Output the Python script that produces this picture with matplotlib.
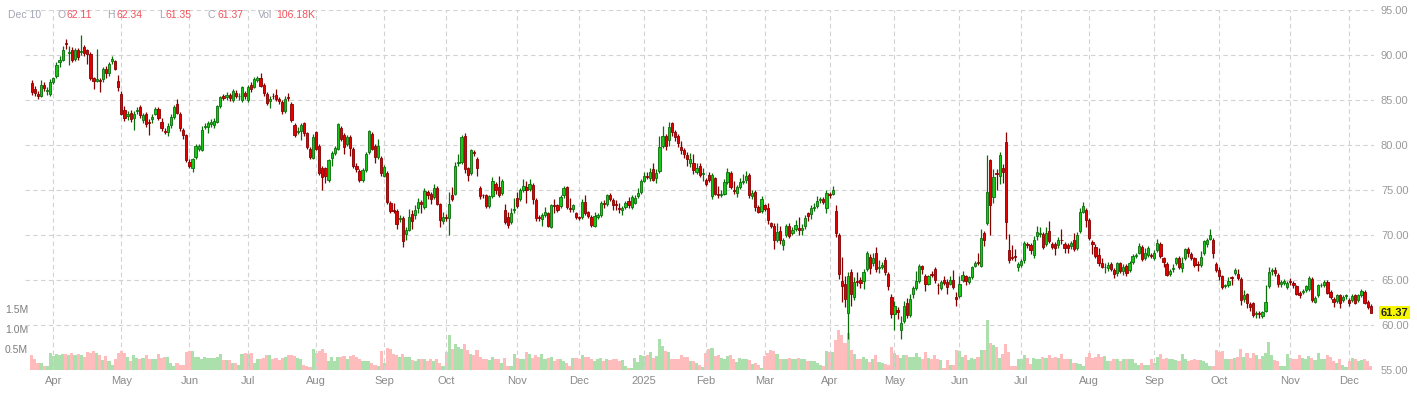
import numpy as np
import pandas as pd
import matplotlib
matplotlib.use('Agg')
import matplotlib.pyplot as plt
import matplotlib.transforms as mtransforms

plt.rcParams['font.family'] = ['Liberation Sans', 'DejaVu Sans']

# daily OHLC, 2024-03-20 .. 2025-12-10
opens = [
    86.9, 86.2, 85.7, 85.5, 86.7, 86.0, 85.7, 87.0, 87.7, 89.2, 89.5, 91.3, 90.2, 90.6, 89.6, 90.6, 90.3, 90.9, 90.5, 90.1, 87.4, 87.1, 87.2, 87.3, 88.5, 88.0, 89.3, 89.3, 87.1, 85.7, 83.9, 83.2, 83.6, 83.0,
    83.8, 84.2, 82.8, 83.4, 82.6, 82.9, 83.5, 84.0, 82.6, 81.6, 81.5, 82.2, 83.1, 84.5, 83.5, 81.7, 81.1, 78.1, 77.4, 78.7, 79.6, 79.4, 82.0, 82.0, 82.3, 82.2, 82.6, 84.3, 85.4, 85.3, 85.6, 85.0, 85.8, 85.4, 85.0, 85.8, 85.0,
    86.7, 86.5, 87.2, 87.4, 86.7, 85.7, 84.9, 85.5, 85.6, 85.1, 84.8, 83.8, 85.3, 84.6, 82.2, 81.5, 81.6, 82.4, 81.3, 79.6, 78.6, 81.4, 79.9, 77.5, 77.4, 76.1, 78.6, 79.1, 79.6, 81.9, 81.1, 80.1, 80.9, 79.6, 77.7, 77.1, 76.1, 77.2, 79.2,
    81.2, 79.9, 78.7, 78.6, 76.6, 76.9, 73.6, 72.8, 72.7, 71.8, 71.9, 70.1, 70.6, 72.3, 72.2, 73.0, 73.7, 73.1, 74.8, 74.6, 74.2, 75.2, 73.4, 71.6, 72.0, 71.9, 74.4, 74.6, 78.0, 78.1, 81.0, 77.4, 76.9, 79.2, 78.5, 75.2, 74.45,
    74.4, 73.2, 74.3, 75.7, 75.3, 74.7, 72.8, 72.0, 71.5, 72.8, 74.1, 74.0, 75.0, 75.3, 75.1, 75.6, 73.9, 72.0, 71.8, 72.2, 72.4, 70.9, 73.3, 73.3, 73.2, 74.4, 75.3, 73.0, 72.9, 72.4, 72.0, 72.0, 73.7, 72.5, 72.0, 71.0,
    72.0, 72.2, 73.6, 73.4, 74.5, 73.9, 73.4, 73.0, 72.8, 73.1, 73.8, 73.1, 73.6, 74.3, 74.8, 76.0, 76.6, 76.3, 77.3, 76.3, 77.1, 79.9, 81.0, 80.6, 82.4, 81.4, 81.0, 79.8, 79.4, 78.9, 78.0, 78.0, 77.0, 77.7, 76.8, 76.1, 76.7, 74.3,
    76.3, 74.6, 74.4, 74.6, 75.9, 76.9, 75.0, 74.7, 75.3, 75.9, 76.1, 76.7, 74.3, 74.8, 73.1, 72.7, 73.3, 73.0, 71.3, 71.0, 69.4, 70.5, 68.9, 70.0, 71.0, 70.2, 70.7, 70.8, 70.6, 71.0, 72.4, 72.3, 73.0, 73.2, 73.9, 74.0, 73.0,
    74.6, 74.6, 72.7, 70.0, 64.9, 64.6, 61.3, 65.9, 63.1, 64.9, 65.0, 64.9, 66.2, 67.6, 66.9, 68.0, 66.3, 66.5, 67.2, 65.7, 63.1, 61.2, 61.7, 59.5, 60.4, 62.4, 61.1, 63.4, 64.1, 64.9, 66.5, 65.5, 64.6, 65.7, 66.2, 64.5,
    64.1, 65.0, 64.8, 64.6, 65.0, 63.1, 63.2, 65.0, 65.4, 64.8, 65.3, 66.6, 67.0, 66.6, 70.2, 71.3, 78.3, 74.2, 76.9, 76.6, 77.4, 80.3, 68.3, 67.6, 67.7, 66.5, 66.7, 67.2, 69.0, 68.9, 67.8, 69.9, 70.1, 70.1, 69.0, 70.5, 69.0, 69.0, 68.9,
    69.5, 69.0, 68.9, 68.8, 69.4, 68.6, 70.4, 72.6, 72.8, 71.7, 69.2, 68.7, 67.8, 66.9, 66.4, 66.3, 66.8, 66.1, 65.8, 66.9, 66.0, 66.6, 66.1, 67.0, 67.7, 68.0, 68.7, 67.5, 67.8, 67.8, 67.5, 68.3, 69.0, 67.4, 66.8,
    65.7, 66.2, 66.9, 67.5, 66.3, 67.5, 68.5, 67.9, 67.4, 66.8, 66.7, 68.0, 69.0, 69.6, 69.5, 66.8, 66.1, 65.4, 64.3, 64.4, 65.3, 65.8, 65.7, 65.1, 62.9, 63.4, 62.3, 62.4, 61.2, 61.3, 61.0, 61.6, 64.3, 66.0, 66.1, 65.6, 64.6, 64.7, 64.2,
    64.9, 64.7, 64.3, 63.6, 63.7, 63.9, 64.0, 65.1, 62.6, 63.3, 64.4, 64.4, 64.8, 63.7, 62.9, 62.7, 63.3, 62.8, 63.2, 62.8, 62.8, 63.3, 62.8, 63.3, 63.7, 62.6, 62.11,
]
highs = [
    87.2, 86.6, 86.0, 87.2, 87.0, 86.5, 87.3, 87.6, 89.2, 89.9, 91.0, 91.8, 91.0, 90.9, 90.8, 90.8, 92.2, 91.1, 90.7, 90.3, 87.6, 90.7, 87.4, 88.7, 88.8, 89.2, 89.9, 89.5, 87.8, 86.0, 84.3, 83.8, 83.9, 83.8,
    84.2, 84.5, 83.6, 83.7, 82.9, 83.4, 84.2, 84.2, 83.0, 81.9, 82.4, 83.4, 84.4, 85.1, 83.7, 81.9, 81.2, 78.4, 78.6, 80.1, 80.1, 82.1, 82.5, 82.7, 82.9, 83.0, 84.5, 85.5, 85.7, 85.9, 85.8, 86.2, 86.1, 85.8, 86.6, 86.0, 86.7,
    87.0, 87.6, 87.7, 88.0, 86.9, 85.9, 85.4, 85.8, 86.2, 85.3, 85.0, 85.4, 85.8, 84.8, 82.4, 82.0, 82.5, 82.6, 81.5, 79.8, 81.2, 81.6, 80.1, 77.7, 77.6, 78.5, 79.3, 79.9, 82.5, 82.1, 81.3, 81.1, 81.1, 79.8, 78.0, 77.3, 77.4, 79.2, 81.7,
    81.4, 80.1, 80.7, 78.8, 77.8, 77.1, 73.8, 73.6, 72.9, 72.2, 72.1, 70.9, 72.9, 72.8, 73.3, 74.1, 73.9, 75.2, 75.0, 74.8, 75.7, 75.4, 73.6, 72.6, 72.3, 74.8, 75.3, 78.1, 79.0, 81.1, 81.3, 77.6, 79.6, 79.4, 78.7, 75.4, 74.6,
    74.6, 74.5, 76.4, 75.9, 76.6, 76.2, 73.4, 72.6, 73.0, 74.1, 74.8, 75.2, 76.2, 76.0, 76.2, 75.8, 74.1, 72.2, 72.5, 73.1, 72.6, 73.5, 74.0, 73.5, 74.4, 75.4, 75.4, 74.1, 73.5, 72.6, 72.1, 74.0, 74.5, 72.7, 72.2, 72.6,
    72.5, 73.8, 73.9, 74.6, 74.7, 74.1, 73.9, 73.6, 73.2, 73.8, 74.2, 74.4, 74.5, 75.2, 76.2, 77.0, 77.0, 77.4, 78.0, 77.3, 81.0, 82.1, 81.2, 82.6, 82.6, 81.7, 81.2, 80.4, 79.7, 79.2, 79.1, 79.0, 78.0, 78.0, 77.5, 76.3, 77.0, 76.9,
    76.5, 75.4, 75.0, 76.2, 77.4, 77.1, 76.0, 75.6, 76.3, 76.8, 77.1, 76.9, 75.0, 75.0, 73.3, 74.3, 73.5, 73.6, 71.5, 71.3, 71.3, 71.0, 69.7, 71.2, 71.3, 70.9, 71.7, 72.0, 71.2, 72.2, 72.6, 73.3, 73.6, 74.3, 74.2, 74.2, 75.0,
    74.8, 75.5, 73.3, 70.2, 67.6, 65.5, 65.9, 66.2, 65.3, 65.9, 65.3, 66.2, 68.2, 67.9, 68.0, 68.7, 67.2, 67.0, 67.6, 65.9, 63.5, 62.7, 62.0, 61.0, 62.7, 63.0, 63.5, 64.3, 66.0, 66.8, 66.7, 65.7, 65.6, 66.0, 66.5, 64.7,
    65.0, 65.5, 65.1, 65.5, 66.1, 63.7, 65.4, 66.0, 65.6, 65.5, 66.6, 67.1, 68.0, 70.7, 70.5, 78.9, 78.5, 77.3, 77.3, 79.2, 77.9, 81.5, 70.1, 68.9, 68.4, 67.0, 67.3, 69.3, 69.2, 69.1, 69.9, 71.0, 70.9, 70.3, 70.9, 71.6, 69.2, 69.2, 69.8,
    70.7, 69.2, 69.1, 69.3, 70.2, 70.3, 73.0, 73.7, 73.0, 71.9, 69.4, 69.0, 68.6, 67.5, 66.9, 67.0, 67.0, 66.3, 67.0, 67.0, 66.8, 66.8, 67.1, 67.9, 68.0, 69.1, 68.9, 68.6, 68.8, 68.0, 68.3, 69.6, 69.2, 67.6, 67.0,
    66.2, 66.8, 67.6, 67.7, 67.6, 68.6, 68.7, 68.1, 67.6, 67.1, 68.2, 69.5, 69.7, 70.7, 69.7, 67.0, 66.4, 65.6, 64.6, 65.3, 65.5, 66.3, 66.2, 65.3, 63.9, 63.6, 62.6, 62.6, 61.6, 61.6, 61.6, 64.4, 66.4, 66.3, 66.4, 65.8, 65.0, 65.1, 64.9,
    65.2, 64.9, 64.5, 63.8, 64.0, 64.5, 65.4, 65.3, 63.2, 64.6, 64.7, 65.0, 65.0, 63.9, 63.1, 63.5, 63.5, 63.3, 63.5, 63.0, 63.4, 63.5, 63.5, 64.0, 63.9, 62.8, 62.34,
]
lows = [
    85.6, 85.4, 85.1, 85.3, 86.0, 85.6, 85.4, 86.8, 87.5, 88.7, 89.3, 90.7, 88.9, 89.2, 89.3, 89.4, 90.0, 89.9, 89.0, 87.2, 86.2, 87.0, 85.9, 87.0, 87.5, 87.7, 89.0, 88.3, 86.0, 83.3, 82.7, 82.8, 82.6, 81.7,
    83.4, 83.0, 82.5, 82.0, 81.1, 82.5, 83.3, 82.8, 81.6, 81.2, 81.0, 81.9, 82.9, 83.4, 81.6, 80.7, 78.1, 77.4, 77.0, 78.5, 79.3, 79.3, 81.8, 81.3, 82.0, 81.9, 82.4, 84.1, 85.0, 85.0, 84.9, 84.8, 85.2, 85.0, 84.8, 85.1, 84.8,
    85.9, 86.3, 87.0, 86.4, 85.5, 84.5, 84.1, 85.1, 84.9, 84.6, 83.5, 83.6, 84.9, 82.6, 80.9, 81.2, 80.6, 81.0, 79.6, 78.5, 78.4, 79.4, 76.7, 75.0, 75.8, 75.9, 77.7, 78.9, 79.4, 80.5, 79.0, 79.9, 78.8, 77.4, 77.0, 75.9, 75.9, 77.0, 79.0,
    79.4, 78.0, 78.5, 76.6, 76.4, 73.5, 72.5, 72.4, 70.7, 71.4, 68.7, 69.5, 70.4, 70.7, 71.8, 72.5, 72.4, 72.9, 74.0, 73.4, 74.0, 73.3, 70.9, 71.2, 71.6, 70.0, 73.8, 74.4, 77.7, 77.9, 76.9, 76.0, 76.7, 78.8, 76.6, 74.0, 74.1,
    73.0, 73.0, 74.1, 74.6, 74.2, 74.5, 71.2, 70.8, 71.2, 72.5, 73.0, 73.8, 74.8, 73.6, 74.9, 73.5, 71.6, 71.6, 71.0, 72.0, 70.9, 70.8, 72.5, 72.6, 73.0, 74.1, 72.9, 72.6, 72.6, 71.8, 71.7, 71.8, 72.2, 71.9, 70.9, 70.9,
    71.8, 72.0, 73.0, 73.2, 73.8, 72.8, 72.8, 72.4, 72.2, 72.9, 73.0, 72.9, 73.4, 74.1, 74.6, 75.9, 76.2, 76.0, 76.0, 75.8, 76.9, 79.7, 79.4, 79.9, 81.0, 80.5, 79.8, 79.0, 78.6, 77.7, 77.6, 76.8, 76.8, 76.4, 76.0, 75.5, 75.9, 74.0,
    74.4, 74.1, 74.2, 74.4, 75.7, 75.1, 74.6, 74.2, 75.1, 75.7, 75.8, 74.1, 74.0, 72.7, 72.4, 72.5, 72.7, 71.2, 70.8, 68.4, 69.2, 69.0, 68.3, 69.8, 69.7, 70.0, 70.5, 70.0, 70.0, 70.7, 71.6, 71.8, 72.7, 73.0, 73.6, 73.5, 72.5,
    74.1, 74.4, 69.8, 65.1, 62.6, 62.0, 58.5, 62.1, 62.8, 64.3, 64.1, 64.0, 66.0, 65.7, 66.6, 65.9, 65.8, 66.2, 65.6, 63.9, 60.8, 59.5, 60.7, 58.5, 60.2, 60.8, 60.9, 63.0, 63.9, 64.7, 65.7, 63.8, 64.4, 65.3, 64.7, 63.5,
    63.9, 64.5, 63.5, 64.4, 64.0, 62.1, 63.0, 64.8, 64.4, 64.6, 65.1, 66.4, 66.7, 66.4, 68.8, 71.1, 70.0, 73.6, 75.0, 75.7, 75.8, 69.6, 66.9, 67.2, 67.1, 66.0, 66.5, 66.9, 68.6, 67.9, 67.4, 69.5, 69.8, 68.4, 68.8, 69.1, 68.5, 67.8, 68.6,
    69.0, 68.0, 68.0, 68.5, 68.2, 68.3, 70.2, 72.4, 70.9, 69.4, 67.9, 67.4, 66.6, 66.3, 65.8, 66.0, 66.0, 65.2, 65.5, 65.8, 65.6, 65.5, 65.9, 66.8, 67.5, 67.9, 67.1, 67.2, 67.6, 67.5, 67.2, 68.1, 67.5, 66.4, 65.4,
    65.5, 65.9, 66.7, 66.2, 65.9, 67.2, 67.6, 67.2, 66.5, 66.0, 66.5, 67.8, 68.7, 69.4, 67.4, 65.9, 65.0, 64.0, 64.1, 64.2, 64.5, 65.6, 65.0, 62.2, 62.6, 61.9, 61.6, 60.9, 60.8, 60.8, 60.8, 61.4, 64.1, 65.6, 65.4, 64.2, 64.2, 64.4, 64.0,
    64.5, 64.1, 63.3, 63.0, 63.4, 63.7, 63.8, 62.6, 62.4, 63.1, 64.2, 64.2, 63.4, 62.9, 62.0, 62.4, 61.9, 62.6, 62.9, 62.1, 62.6, 62.3, 62.6, 63.1, 62.3, 61.8, 61.35,
]
closes = [
    85.9, 85.8, 85.5, 86.7, 86.3, 86.1, 87.0, 87.4, 88.9, 89.4, 90.6, 91.2, 90.3, 89.5, 90.5, 89.8, 90.4, 90.2, 90.1, 87.4, 87.1, 87.3, 87.1, 88.4, 88.0, 89.0, 89.6, 88.5, 86.4, 83.5, 83.0, 83.4, 82.9, 83.5,
    83.9, 83.3, 83.3, 82.3, 82.5, 83.1, 84.0, 83.0, 81.9, 81.5, 82.1, 83.1, 84.2, 83.6, 81.9, 81.1, 78.3, 77.7, 78.4, 79.9, 79.9, 81.7, 82.1, 82.5, 82.6, 82.7, 84.3, 85.3, 85.2, 85.6, 85.2, 86.0, 85.4, 85.5, 86.4, 85.4, 86.4,
    86.2, 87.3, 87.4, 86.6, 85.8, 84.7, 85.1, 85.4, 85.1, 84.9, 83.8, 85.1, 85.2, 82.8, 81.1, 81.6, 82.2, 81.3, 79.8, 78.7, 80.9, 79.6, 76.9, 76.5, 76.6, 78.3, 79.1, 79.7, 82.3, 80.7, 79.8, 80.9, 79.7, 77.7, 77.3, 76.1, 77.2, 79.0, 81.5,
    79.6, 78.7, 79.9, 76.9, 77.6, 73.7, 72.7, 72.7, 71.2, 71.9, 69.3, 70.6, 72.0, 71.6, 72.8, 73.7, 73.5, 74.9, 74.4, 74.0, 75.2, 73.5, 71.7, 72.0, 71.9, 73.5, 74.0, 77.7, 78.1, 80.9, 77.3, 76.7, 79.4, 79.1, 77.5, 74.3, 74.4,
    73.2, 74.3, 76.0, 75.0, 74.4, 76.0, 71.5, 71.1, 72.5, 72.9, 73.2, 75.0, 75.5, 75.0, 75.7, 74.0, 71.9, 71.9, 72.2, 72.6, 71.0, 73.3, 73.2, 72.8, 74.2, 75.2, 73.1, 72.9, 73.3, 72.0, 71.9, 73.7, 72.4, 72.1, 71.1, 72.1,
    72.2, 73.6, 73.5, 74.4, 74.0, 73.3, 73.3, 72.9, 73.0, 73.5, 73.3, 74.2, 74.1, 74.7, 76.0, 76.6, 76.5, 77.0, 76.1, 76.9, 79.8, 81.0, 79.9, 82.0, 81.4, 80.9, 80.2, 79.4, 79.0, 78.4, 78.4, 77.2, 77.4, 76.7, 76.9, 75.7, 76.1, 76.7,
    74.6, 74.4, 74.6, 75.9, 77.0, 75.3, 74.9, 75.3, 75.9, 76.0, 76.5, 74.4, 74.7, 73.1, 72.6, 74.0, 72.9, 71.7, 71.0, 69.4, 70.3, 69.4, 69.5, 71.0, 69.9, 70.6, 71.1, 70.6, 70.8, 71.9, 72.1, 73.0, 73.1, 73.8, 74.0, 73.7, 74.7,
    74.4, 75.0, 70.2, 65.7, 64.3, 62.9, 65.4, 63.4, 64.8, 64.8, 64.7, 65.9, 68.0, 66.3, 67.5, 66.2, 66.5, 66.7, 65.9, 64.3, 61.2, 62.1, 61.4, 60.2, 62.1, 61.1, 62.9, 64.1, 64.9, 66.6, 66.2, 64.6, 65.4, 65.6, 65.0, 64.4,
    64.8, 64.7, 64.2, 65.0, 64.2, 62.9, 64.6, 65.6, 64.9, 65.3, 66.4, 66.9, 66.9, 69.7, 69.4, 74.8, 73.3, 76.4, 76.8, 78.9, 77.0, 71.5, 67.2, 67.5, 67.6, 66.8, 67.1, 69.1, 68.9, 68.3, 69.5, 70.3, 70.2, 68.7, 70.2, 69.3, 68.7, 68.6, 69.5,
    69.4, 68.6, 68.6, 69.1, 68.4, 70.0, 72.6, 73.2, 71.7, 69.7, 69.0, 67.7, 66.9, 66.5, 66.5, 66.7, 66.2, 65.7, 66.9, 66.0, 66.5, 65.8, 66.9, 67.7, 67.8, 68.8, 67.3, 68.0, 68.6, 67.7, 68.0, 69.1, 67.7, 67.0, 65.6,
    66.0, 66.3, 67.4, 66.5, 66.9, 68.4, 68.0, 67.5, 66.7, 66.7, 67.6, 69.3, 69.4, 70.0, 68.0, 66.1, 65.4, 64.2, 64.4, 64.9, 65.2, 66.1, 65.2, 62.8, 63.3, 62.5, 62.0, 61.1, 61.3, 61.2, 61.4, 62.6, 65.9, 66.05, 65.8, 64.6, 64.8, 64.9, 64.7,
    64.8, 64.4, 63.5, 63.3, 63.8, 64.3, 65.2, 62.8, 63.0, 64.4, 64.5, 64.8, 63.6, 63.1, 62.6, 63.3, 62.4, 63.1, 63.3, 62.4, 63.2, 62.5, 63.3, 63.8, 62.5, 62.0, 61.37,
]
# volume in millions of shares
volumes = [
    .37, .27, .17, .17, .10, .10, .42, .35, .39, .37, .39, .39, .37, .42, .37, .39, .37, .33, .45, .42, .48, .42, .37, .25, .35, .23, .12, .27, .42, .48, .42, .33, .23, .37,
    .31, .28, .31, .37, .27, .28, .27, .39, .31, .33, .33, .17, .10, .17, .12, .12, .45, .48, .48, .33, .33, .27, .33, .31, .31, .31, .33, .39, .25, .25, .25, .17, .17, .12, .39, .42, .39,
    .42, .17, .27, .28, .31, .37, .37, .27, .31, .25, .31, .33, .37, .37, .35, .31, .28, .12, .10, .08, .52, .42, .48, .53, .42, .23, .33, .23, .33, .33, .35, .27, .35, .37, .33, .27, .23, .23, .23,
    .17, .12, .10, .48, .17, .56, .52, .39, .37, .33, .39, .33, .33, .25, .23, .27, .28, .28, .23, .27, .23, .27, .17, .10, .45, .87, .53, .64, .58, .53, .64, .50, .39, .37, .50, .33, .28,
    .27, .25, .33, .28, .27, .18, .31, .10, .10, .39, .31, .28, .28, .45, .39, .31, .37, .33, .39, .27, .31, .33, .23, .28, .28, .23, .18, .10, .31, .31, .28, .37, .33, .33, .28, .23,
    .28, .31, .23, .28, .25, .28, .28, .23, .25, .10, .06, .04, .31, .20, .37, .35, .37, .45, .31, .35, .77, .60, .48, .45, .27, .28, .28, .37, .33, .33, .23, .23, .17, .12, .08, .43, .53, .56,
    .35, .37, .31, .28, .35, .37, .28, .20, .31, .27, .27, .25, .14, .18, .12, .06, .35, .43, .50, .48, .39, .27, .27, .27, .31, .27, .28, .31, .27, .28, .23, .23, .23, .17, .12, .10, .48,
    .45, .45, .75, 1.0, .87, .67, .92, .50, .39, .27, .27, .33, .28, .20, .28, .37, .20, .17, .14, .12, .58, .43, .37, .31, .37, .37, .33, .33, .42, .33, .28, .45, .31, .28, .37, .27,
    .25, .04, .25, .12, .12, .50, .48, .33, .37, .25, .31, .27, .33, .50, .50, 1.25, .67, .62, .58, .31, .39, .64, .45, .10, .10, .28, .28, .37, .31, .14, .31, .27, .27, .33, .31, .37, .31, .33, .31,
    .39, .27, .27, .27, .17, .18, .14, .10, .33, .42, .31, .33, .39, .33, .35, .23, .23, .28, .27, .23, .27, .27, .28, .27, .18, .12, .17, .12, .12, .27, .17, .33, .39, .28, .31,
    .28, .27, .25, .23, .39, .28, .23, .25, .27, .25, .25, .23, .18, .10, .10, .50, .45, .48, .28, .28, .28, .31, .33, .53, .33, .42, .31, .42, .37, .27, .35, .43, .70, .37, .25, .23, .10, .10, .39,
    .31, .28, .28, .37, .31, .28, .35, .31, .25, .43, .28, .27, .37, .33, .23, .18, .28, .12, .08, .23, .31, .28, .23, .25, .27, .23, .10618,
]

holidays = ['2024-03-29', '2024-05-27', '2024-06-19', '2024-07-04', '2024-09-02', '2024-11-28',
            '2024-12-25', '2025-01-01', '2025-01-09', '2025-01-20', '2025-02-17', '2025-04-18',
            '2025-05-26', '2025-06-19', '2025-07-04', '2025-09-01', '2025-11-27']
dates = pd.bdate_range('2024-03-20', '2025-12-10', freq='C', holidays=holidays)

n = min(len(opens), len(highs), len(lows), len(closes), len(volumes))
o = np.array(opens[:n]); h = np.array(highs[:n]); l = np.array(lows[:n]); c = np.array(closes[:n])
v = np.array(volumes[:n])
dates = dates[-n:] if len(dates) >= n else dates
idx = np.arange(n)

# month starts for grid / labels
month_pos, month_lab = [], []
for i in range(1, len(dates)):
    if dates[i].month != dates[i - 1].month:
        month_pos.append(i)
        month_lab.append(str(dates[i].year) if dates[i].month == 1 else dates[i].strftime('%b'))

W, H = 1417, 396
fig = plt.figure(figsize=(W / 100, H / 100), dpi=100)
left, right, top, bottom = 25, 1374, 10, 370
rect = [left / W, 1 - bottom / H, (right - left) / W, (bottom - top) / H]
step = 3.0924
xlim = (-(31.7 - left) / step, (right - 31.7) / step)

# volume underneath
axv = fig.add_axes(rect)
up = c >= o
axv.bar(idx, v, width=1.0, color=np.where(up, '#abdfab', '#ffbcbc'), linewidth=0)
axv.set_xlim(*xlim)
axv.set_ylim(0, 9.0)
axv.axis('off')
tr = mtransforms.blended_transform_factory(fig.transFigure, axv.transData)
for val, txt in zip([0.5, 1.0, 1.5], ['0.5M', '1.0M', '1.5M']):
    axv.text(5 / W, val, txt, transform=tr, ha='left', va='center', fontsize=7.5, color='#7d7d7d')

# price candles on top
ax = fig.add_axes(rect)
ax.patch.set_alpha(0)
ax.set_xlim(*xlim)
ax.set_ylim(55, 95)
for s in ax.spines.values():
    s.set_visible(False)

ax.set_xticks(month_pos)
ax.set_xticklabels(month_lab)
ax.set_yticks(np.arange(55, 96, 5))
ax.yaxis.tick_right()
ax.yaxis.set_major_formatter(plt.FormatStrFormatter('%.2f'))
ax.tick_params(axis='y', length=0, pad=5, labelsize=8, labelcolor='#9a9a9a')
ax.tick_params(axis='x', length=0, pad=4.5, labelsize=8, labelcolor='#8a8a8a')
ax.grid(True, color='#d2d2d2', linestyle=(0, (4, 3)), linewidth=0.8, zorder=0)
ax.set_axisbelow(True)
ax.yaxis.get_gridlines()[0].set_visible(False)

edge = np.where(up, '#0a6e0a', '#870000')
body = np.where(up, '#17c617', '#e20000')
ax.vlines(idx, l, h, colors=edge, linewidth=0.9, zorder=3)
bh = np.maximum(np.abs(c - o), 0.08)
ax.bar(idx, bh, bottom=np.minimum(o, c), width=0.72, color=body, edgecolor=edge, linewidth=0.6, zorder=4)

# last price tag
trp = mtransforms.blended_transform_factory(ax.transAxes, ax.transData)
ax.text((1381 - left) / (right - left), c[-1], f'{c[-1]:.2f}', transform=trp, ha='left', va='center',
        fontsize=8, fontweight='bold', color='#222222',
        bbox=dict(boxstyle='square,pad=0.15', fc='#f7f700', ec='none'))

# header line
gray, red = '#a2a5b3', '#f0525a'
vol_k = v[-1] * 1000
parts = [('Dec 10', 8, gray), ('O', 57, gray), (f'{o[-1]:.2f}', 66.5, red),
         ('H', 107, gray), (f'{h[-1]:.2f}', 116.5, red), ('L', 159, gray), (f'{l[-1]:.2f}', 166, red),
         ('C', 208, gray), (f'{c[-1]:.2f}', 217, red), ('Vol', 258, gray), (f'{vol_k:.2f}K', 276, red)]
for txt, x, col in parts:
    fig.text(x / W, 1 - 15.5 / H, txt, ha='left', va='center', fontsize=7.5, color=col)

fig.savefig('out.png', dpi=100)
